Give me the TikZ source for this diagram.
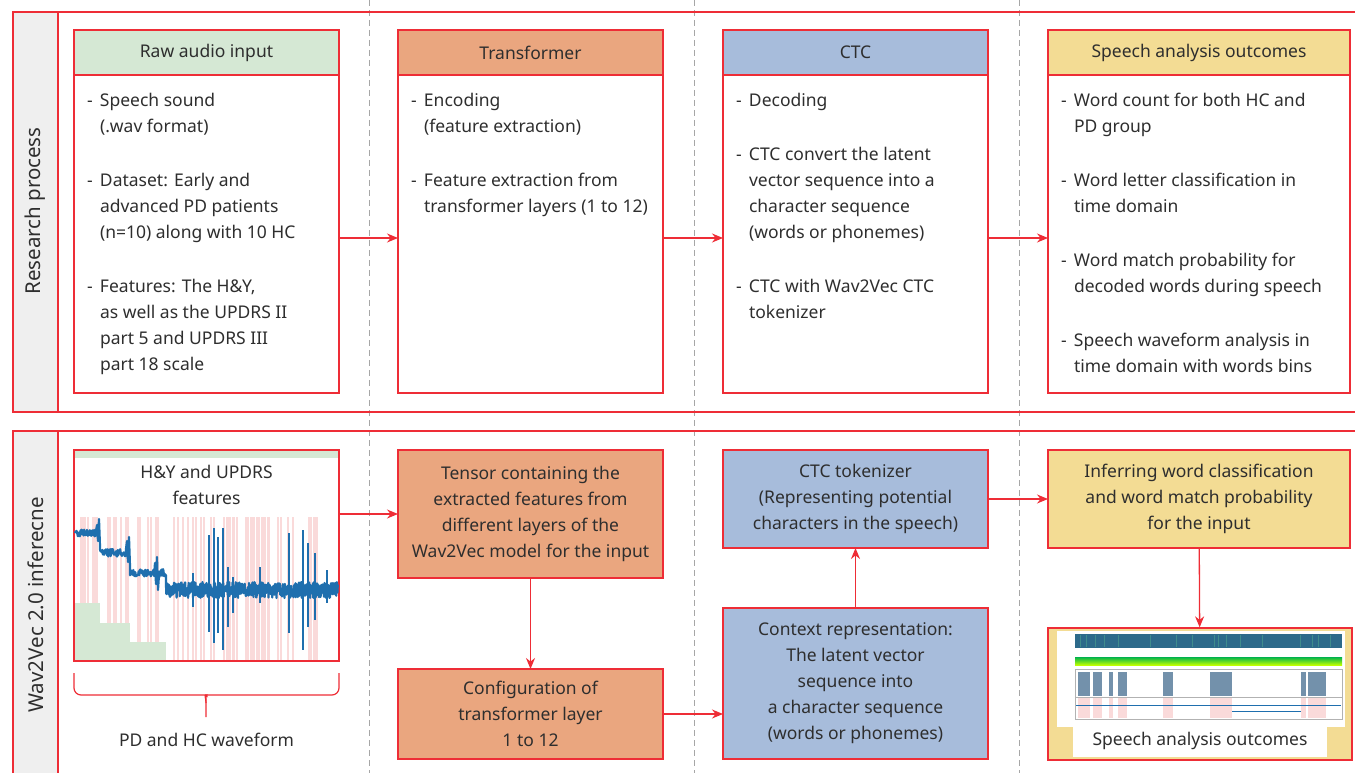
\documentclass[tikz,border=0pt]{standalone}
\usepackage{fontspec}
\setmainfont{Noto Sans}
\usetikzlibrary{shapes, arrows.meta, positioning}

\definecolor{bordred}{HTML}{EE2D36}
\definecolor{textgray}{HTML}{2E2E2E}
\definecolor{hdgreen}{HTML}{D5E8D4}
\definecolor{hdorange}{HTML}{EAA67F}
\definecolor{hdblue}{HTML}{A7BCDB}
\definecolor{hdyellow}{HTML}{F3DC94}
\definecolor{colgray}{HTML}{EFEFEF}
\definecolor{stripepink}{HTML}{FADADA}
\definecolor{waveblue}{HTML}{1F6FAE}
\definecolor{specteal}{HTML}{2D6A8A}
\definecolor{speclight}{HTML}{3F8C8C}
\definecolor{bargray}{HTML}{7391AB}

\newcommand{\boxfont}{\fontsize{17.5}{26}\selectfont}
\newcommand{\bodytext}[2]{\parbox[t][282pt][t]{#1}{\boxfont\rightskip=0pt plus 1fil\setlength{\parskip}{28pt}#2}}
\newcommand{\bitem}{\par\hangindent=13pt\hangafter=1\noindent\makebox[13pt][l]{-}}

\tikzstyle{header} = [rectangle, minimum width=265pt, minimum height=45pt, text centered, draw=bordred, line width=1.3pt, outer sep=0pt]
\tikzstyle{bodybox} = [rectangle, draw=bordred, line width=1.3pt, fill=white, inner xsep=13pt, inner ysep=18pt, outer sep=0pt]
\tikzstyle{block} = [rectangle, minimum width=265pt, align=center, draw=bordred, line width=1.3pt, outer sep=0pt]
\tikzstyle{band} = [draw=bordred, line width=1.3pt]
\tikzstyle{rowlabel} = [rotate=90, font=\fontsize{20.5}{24}\selectfont]
\tikzstyle{divider} = [draw=gray!70, line width=1pt, dash pattern=on 6pt off 4pt]
\tikzstyle{edge} = [line width=1.3pt, draw=bordred, ->, >={Stealth[length=11pt, width=9pt]}, bordred]
\tikzstyle{wave} = [draw=waveblue, line width=2.2pt, line join=round]

\begin{document}
\begin{tikzpicture}[x=1pt, y=-1pt, every node/.style={font=\boxfont, text=textgray}]
\useasboundingbox (0,0) rectangle (1355,773);
\clip (0,0) rectangle (1355,773);

% dashed column guides
\foreach \x in {369,694,1019}
  \draw [divider] (\x,0) -- (\x,773);

% bands with their labels
\draw [band] (13,12) rectangle (1370,412);
\draw [band, fill=colgray] (13,12) rectangle (58,412);
\node (rp) [rowlabel] at (35.5,211) {Research process};
\draw [band] (13,431) rectangle (1370,800);
\draw [band, fill=colgray] (13,431) rectangle (58,800);
\node (wv) [rowlabel] at (35.5,605) {Wav2Vec 2.0 inferecne};

% research process
\node (h1) [header, fill=hdgreen] at (206.5,52.5) {Raw audio input};
\node (h2) [header, fill=hdorange] at (530.5,52.5) {Transformer};
\node (h3) [header, fill=hdblue] at (855.5,52.5) {CTC};
\node (h4) [header, fill=hdyellow, minimum width=302pt] at (1199,52.5) {Speech analysis outcomes};

\node (b1) [bodybox, below=0pt of h1] {\bodytext{239pt}{%
\bitem Speech sound\\(.wav format)
\bitem Dataset: Early and\\advanced PD patients\\(n=10) along with 10 HC
\bitem Features: The H\&Y,\\as well as the UPDRS II\\part 5 and UPDRS III\\part 18 scale}};
\node (b2) [bodybox, below=0pt of h2] {\bodytext{239pt}{%
\bitem Encoding\\(feature extraction)
\bitem Feature extraction from\\transformer layers (1 to 12)}};
\node (b3) [bodybox, below=0pt of h3] {\bodytext{239pt}{%
\bitem Decoding
\bitem CTC convert the latent\\vector sequence into a\\character sequence\\(words or phonemes)
\bitem CTC with Wav2Vec CTC\\tokenizer}};
\node (b4) [bodybox, below=0pt of h4] {\bodytext{276pt}{%
\bitem Word count for both HC and\\PD group
\bitem Word letter classification in\\time domain
\bitem Word match probability for\\decoded words during speech
\bitem Speech waveform analysis in\\time domain with words bins}};

\draw [edge] ([yshift=-4pt]b1.east) -- ([yshift=-4pt]b2.west);
\draw [edge] ([yshift=-4pt]b2.east) -- ([yshift=-4pt]b3.west);
\draw [edge] ([yshift=-4pt]b3.east) -- ([yshift=-4pt]b4.west);

% wav2vec inference
\node (img) [rectangle, draw=bordred, line width=1.3pt, fill=white, minimum width=265pt, minimum height=211pt] at (206.5,555.5) {};
\fill [hdgreen] (75,451) rectangle (338,458);
\foreach \x/\w in {80/1.5,82/1.5,84/1.5,87/1.5,92/1.5,94/1.5,96/1.5,107/1.5,109/1.5,113/1.5,115/1.5,120/1.5,125/1.5,127/1.5,137/1.5,139/1.5,147/1.5,150/1.5,155/1.5,157/1.5,173/2,177/2,182/1.5,187/2,192/2,195/2,200/2,203/2,210/2,213/2,223/2,226/2,228/3,232/3,236/2,245/4,250/5,256/4,261/5,267/3,277/2,280/2,287/2,292/2,308/4,313/5}
  \fill [stripepink] (\x,517) rectangle ++(\w,143);
\fill [hdgreen] (75,603) rectangle (100,660);
\fill [hdgreen] (100,623) rectangle (130,660);
\fill [hdgreen] (130,642) rectangle (166,660);
\pgfmathsetseed{11}
\draw [wave] plot[domain=75:96, samples=45] (\x,{533+4*rand}) -- (97,525) -- (98,541) -- (99,519) -- (100,546)
  -- plot[domain=100:126, samples=45] (\x,{553+4*rand}) -- (127,541) -- (128,562) -- (129,537) -- (130,566)
  -- plot[domain=130:154, samples=45] (\x,{573+3.5*rand}) -- (155,563) -- (156,584) -- (157,557) -- (158,590)
  -- plot[domain=159:166, samples=15] (\x,{573+4*rand})
  -- plot[domain=166:338, samples=600] (\x,{590+8*rand});
\foreach \x/\a/\b in {193/573/607,209/535/632,214/528/643,218/537/633,223/528/650,228/567/627,233/577/613,260/567/603,289/533/633,303/530/650,308/543/627,315/553/620,327/570/603}
  \draw [wave] (\x,\a) -- (\x,\b);
\node (hy) [align=center] at (206.5,485) {H\&Y and UPDRS\\features};
\draw [bordred, line width=1.3pt] (img.south west) rectangle (img.north east);

\draw [bordred, line width=1.2pt, rounded corners=7pt] (74,673) |- (199,695) .. controls (204,695) and (206,698) .. (206,703);
\draw [bordred, line width=1.2pt, rounded corners=7pt] (339,673) |- (213,695) .. controls (208,695) and (206,698) .. (206,703) -- (206,717);
\node (pd) at (206.5,740) {PD and HC waveform};

\node (tensor) [block, fill=hdorange, minimum height=128pt] at (530.5,514) {Tensor containing the\\extracted features from\\different layers of the\\Wav2Vec model for the input};
\node (config) [block, fill=hdorange, minimum height=90pt] at (530.5,714) {Configuration of\\transformer layer\\1 to 12};
\node (ctx) [block, fill=hdblue, minimum height=151pt] at (855.5,683.5) {Context representation:\\The latent vector\\sequence into\\a character sequence\\(words or phonemes)};
\node (tok) [block, fill=hdblue, minimum height=98pt] at (855.5,499) {CTC tokenizer\\(Representing potential\\characters in the speech)};
\node (inf) [block, fill=hdyellow, minimum width=302pt, minimum height=98pt] at (1199,499) {Inferring word classification\\and word match probability\\for the input};
\node (out) [rectangle, draw=bordred, line width=1.3pt, fill=hdyellow, minimum width=304pt, minimum height=132pt] at (1200,694) {};

% outcome plot
\fill [white] (1057,631) rectangle (1345,727);
\fill [white] (1073,727) rectangle (1327,757);
\fill [specteal] (1075,634) rectangle (1342,648);
\foreach \x in {1080,1086,1095,1104,1118,1150,1176,1192,1214,1218,1226,1240,1262,1300,1312,1318,1330}
  \fill [speclight] (\x,635) rectangle ++(1,12);
\shade [top color=teal!60!green, bottom color=yellow!75!green] (1075,657) rectangle (1342,665);
\draw [gray!60, line width=0.4pt] (1075,669) rectangle (1342,697);
\draw [gray!60, line width=0.4pt] (1075,697) rectangle (1342,719);
\foreach \a/\b in {1078/1090,1093/1102,1109/1113,1118/1127,1163/1173,1210/1232,1301/1306,1308/1326} {
  \fill [bargray] (\a,672) rectangle (\b,696);
  \fill [stripepink] (\a,698) rectangle (\b,718);
}
\draw [waveblue, line width=0.8pt] (1076,705) -- (1341,705);
\draw [waveblue, line width=0.5pt] (1232,711) -- (1301,711);
\node (lbl) at (1200,741) {Speech analysis outcomes};
\draw [bordred, line width=1.3pt] (out.south west) rectangle (out.north east);

\draw [edge] (img.east |- tensor.west) -- (tensor.west);
\draw [edge] (tensor) -- (config);
\draw [edge] (config) -- (config -| ctx.west);
\draw [edge] (ctx) -- (tok);
\draw [edge] (tok) -- (inf);
\draw [edge] (inf) -- (out);

\end{tikzpicture}
\end{document}
